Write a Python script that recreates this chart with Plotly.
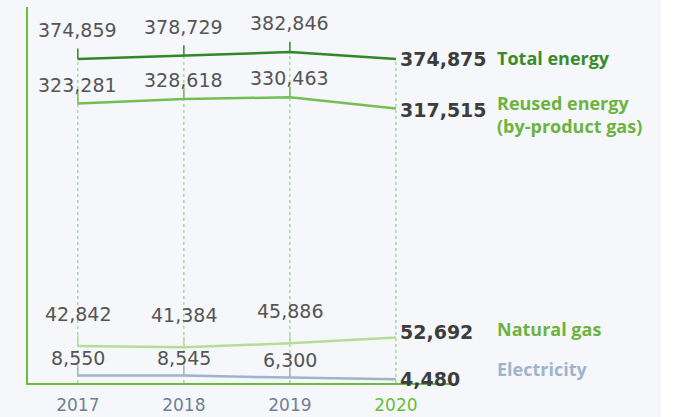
import plotly.graph_objects as go

years = [2017, 2018, 2019, 2020]
year_labels = ["2017", "2018", "2019", "2020"]
total_energy = [374859, 378729, 382846, 374875]
reused_energy = [323281, 328618, 330463, 317515]
natural_gas = [42842, 41384, 45886, 52692]
electricity = [8550, 8545, 6300, 4480]

series = [
    dict(name="Total energy", values=total_energy, color="#2f8a25", label_color="#3a8c2a", shift=29, name_shift=1, end_shift=0),
    dict(name="Reused energy<br>(by-product gas)", values=reused_energy, color="#72bf52", label_color="#6db33f", shift=19, name_shift=-6, end_shift=-1),
    dict(name="Natural gas", values=natural_gas, color="#b9db98", label_color="#6db33f", shift=32, name_shift=8, end_shift=5),
    dict(name="Electricity", values=electricity, color="#9fb4ca", label_color="#9fb4ca", shift=18, name_shift=10, end_shift=0),
]

BG = "#f5f7fb"
AXIS_GREEN = "#6cbc3c"
NUM_FONT = "DejaVu Sans"
LABEL_FONT = "Open Sans"

fig = go.Figure()

# dotted vertical guides from axis up to the total line
gx, gy = [], []
for x, top in zip(years, total_energy):
    gx += [x, x, None]
    gy += [0, top, None]
fig.add_trace(go.Scatter(x=gx, y=gy, mode="lines",
                         line=dict(color="#8cc86a", width=1, dash="dot"),
                         hoverinfo="skip", showlegend=False))

annotations = []
for s in series:
    vals = s["values"]
    tick_len = [12000] * (len(vals) - 1) + [0]
    fig.add_trace(go.Scatter(
        x=years, y=vals, mode="lines",
        line=dict(color=s["color"], width=2.5),
        error_y=dict(type="data", symmetric=False, array=tick_len,
                     arrayminus=[0] * len(vals), width=0, thickness=1.5,
                     color=s["color"]),
        showlegend=False, hoverinfo="skip"))
    for x, v in zip(years[:-1], vals[:-1]):
        annotations.append(dict(x=x, y=v, xref="x", yref="y", text=f"{v:,}",
                                showarrow=False, yshift=s["shift"],
                                font=dict(family=NUM_FONT, size=19, color="#555555")))
    annotations.append(dict(x=years[-1], y=vals[-1], xref="x", yref="y",
                            text=f"<b>{vals[-1]:,}</b>", showarrow=False,
                            xanchor="left", xshift=2, yshift=s["end_shift"],
                            font=dict(family=NUM_FONT, size=19, color="#3d3d3d")))
    annotations.append(dict(x=1.1066, y=vals[-1], xref="paper", yref="y",
                            text=f"<b>{s['name']}</b>", showarrow=False,
                            xanchor="left", align="left", yshift=s["name_shift"],
                            font=dict(family=LABEL_FONT, size=18, color=s["label_color"])))

tick_text = year_labels[:-1] + [f"<span style='color:{AXIS_GREEN}'>{year_labels[-1]}</span>"]

fig.update_layout(
    width=677, height=417,
    margin=dict(l=28, r=227, t=7, b=34, autoexpand=False),
    paper_bgcolor=BG, plot_bgcolor=BG,
    annotations=annotations,
    xaxis=dict(range=[2016.53, 2020.51], tickvals=years, ticktext=tick_text,
               showgrid=False, zeroline=False, showline=True, linecolor=AXIS_GREEN,
               linewidth=2, ticks="", ticklabelstandoff=6, automargin=False,
               tickfont=dict(family=NUM_FONT, size=17, color="#6f7f95")),
    yaxis=dict(range=[0, 435000], showgrid=False, zeroline=False, showline=True,
               linecolor=AXIS_GREEN, linewidth=2, showticklabels=False, ticks="",
               automargin=False),
    shapes=[dict(type="rect", xref="paper", yref="paper", x0=(661 - 28) / 422, x1=2.0,
                 y0=-0.2, y1=1.2, fillcolor="white", line=dict(width=0), layer="above")],
)

fig.write_html("out.html", config={"displayModeBar": False},
               post_script="document.body.style.margin='0';document.body.style.overflow='hidden';")
